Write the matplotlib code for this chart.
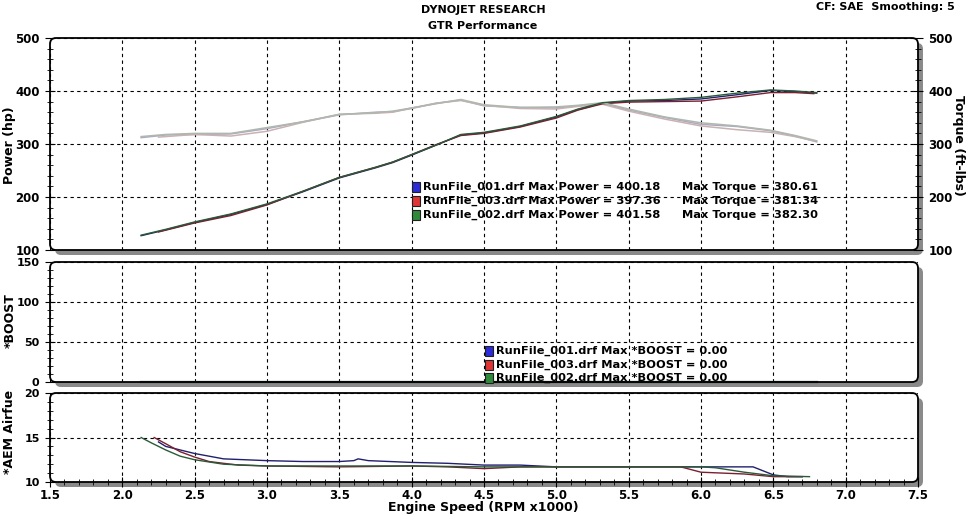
import matplotlib
matplotlib.use("Agg")
import matplotlib.pyplot as plt
from matplotlib.patches import FancyBboxPatch, Rectangle
from matplotlib.ticker import MultipleLocator

plt.rcParams['font.family'] = 'DejaVu Sans'
plt.rcParams['font.weight'] = 'bold'

# ---- data ----
runs = ['RunFile_001.drf', 'RunFile_003.drf', 'RunFile_002.drf']
max_power = ['400.18', '397.36', '401.58']
max_torque = ['380.61', '381.34', '382.30']
max_boost = ['0.00', '0.00', '0.00']

rpm_001 = [2.13, 2.3, 2.5, 2.75, 3.0, 3.25, 3.5, 3.75, 3.87, 4.0, 4.17, 4.34,
           4.5, 4.75, 5.0, 5.15, 5.32, 5.5, 5.75, 6.0, 6.25, 6.48, 6.65, 6.8]
power_001 = [127, 138, 152, 167, 186, 210, 236, 255, 265, 279, 298, 317,
             321, 333, 351, 365, 377, 381, 382, 385, 393, 401, 399, 396]
torque_001 = [312, 317, 318, 319, 329, 342, 355, 360, 361, 367, 377, 383,
              372, 369, 368, 372, 377, 364, 350, 337, 333, 325, 315, 304]

rpm_003 = [2.25, 2.5, 2.75, 3.0, 3.25, 3.5, 3.75, 3.87, 4.0, 4.17, 4.34,
           4.5, 4.75, 5.0, 5.15, 5.32, 5.5, 5.75, 6.0, 6.25, 6.48, 6.65, 6.78]
power_003 = [134, 151, 165, 185, 211, 237, 256, 266, 280, 299, 316,
             320, 332, 349, 364, 376, 379, 380, 381, 389, 397, 397, 395]
torque_003 = [313, 318, 315, 324, 341, 356, 358, 360, 368, 377, 382,
              373, 367, 366, 371, 375, 362, 347, 334, 327, 322, 314, 306]

rpm_002 = [2.13, 2.3, 2.5, 2.75, 3.0, 3.25, 3.5, 3.75, 3.87, 4.0, 4.17, 4.34,
           4.5, 4.75, 5.0, 5.15, 5.32, 5.5, 5.75, 6.0, 6.25, 6.48, 6.65, 6.8]
power_002 = [128, 139, 153, 168, 187, 211, 237, 256, 266, 280, 298, 318,
             322, 334, 352, 366, 378, 382, 384, 388, 396, 402, 400, 397]
torque_002 = [314, 318, 320, 320, 331, 342, 356, 359, 362, 368, 376, 384,
              374, 369, 370, 373, 378, 366, 351, 340, 334, 326, 316, 306]

rpm_boost = [2.13, 6.8]
boost_001 = [0, 0]
boost_003 = [0, 0]
boost_002 = [0, 0]

rpm_afr_001 = [2.25, 2.3, 2.4, 2.5, 2.6, 2.7, 2.85, 3.0, 3.25, 3.5, 3.6, 3.63, 3.7,
               4.0, 4.25, 4.5, 4.75, 5.0, 5.5, 6.0, 6.36, 6.5, 6.6, 6.7]
afr_001 = [14.5, 14.0, 13.6, 13.2, 12.9, 12.6, 12.5, 12.4, 12.3, 12.3, 12.4, 12.6, 12.4,
           12.2, 12.1, 11.9, 11.9, 11.7, 11.7, 11.7, 11.7, 10.8, 10.6, 10.6]
rpm_afr_003 = [2.22, 2.3, 2.4, 2.5, 2.6, 2.8, 3.0, 3.5, 4.0, 4.25, 4.5, 4.75,
               5.0, 5.5, 5.86, 6.0, 6.3, 6.5, 6.7]
afr_003 = [15.0, 14.3, 13.4, 12.8, 12.3, 11.9, 11.8, 11.7, 11.8, 11.7, 11.5, 11.7,
           11.7, 11.7, 11.7, 11.1, 10.9, 10.6, 10.6]
rpm_afr_002 = [2.13, 2.2, 2.3, 2.4, 2.5, 2.7, 3.0, 3.5, 4.0, 4.5, 5.0, 5.5,
               6.0, 6.1, 6.3, 6.5, 6.75]
afr_002 = [15.0, 14.4, 13.6, 12.9, 12.5, 12.0, 11.8, 11.8, 11.8, 11.7, 11.7, 11.7,
           11.7, 11.6, 11.1, 10.7, 10.6]

dark = ['#20206e', '#7a2030', '#2a5a38']     # power / boost / afr
light = ['#b0a8c2', '#c8b2b4', '#aeb8ae']    # torque
icon = ['#2b2bd8', '#e03535', '#2f8a3a']

W, H = 967, 514
fig = plt.figure(figsize=(W / 100, H / 100), dpi=100)
fig.patch.set_facecolor('white')


def frac(l, t, r, b):
    return [l / W, 1 - b / H, (r - l) / W, (b - t) / H]


def panel(l, t, r, b, lsize=8.5):
    # shadow + white rounded box + axes + rounded frame, all in pixels
    x0, y0, w, h = l / 100, (H - b) / 100, (r - l) / 100, (b - t) / 100
    box = "round,pad=0,rounding_size=0.06"
    fig.patches.append(FancyBboxPatch((x0 + 0.05, y0 - 0.05), w, h, boxstyle=box,
                                      transform=fig.dpi_scale_trans, fc='#8a8a8a',
                                      ec='none', zorder=-2))
    fig.patches.append(FancyBboxPatch((x0, y0), w, h, boxstyle=box,
                                      transform=fig.dpi_scale_trans, fc='white',
                                      ec='none', zorder=-1))
    fig.patches.append(FancyBboxPatch((x0, y0), w, h, boxstyle=box,
                                      transform=fig.dpi_scale_trans, fc='none',
                                      ec='black', lw=1.3, zorder=5))
    ax = fig.add_axes(frac(l, t, r, b))
    ax.patch.set_visible(False)
    for s in ax.spines.values():
        s.set_visible(False)
    ax.set_xlim(1.5, 7.5)
    ax.xaxis.set_major_locator(MultipleLocator(0.5))
    ax.xaxis.set_minor_locator(MultipleLocator(0.1))
    ax.grid(True, which='major', color='black', linestyle=(0, (3, 3)), linewidth=0.8)
    ax.set_axisbelow(True)
    ax.tick_params(axis='y', which='both', direction='inout', labelsize=lsize,
                   pad=4, colors='black')
    ax.tick_params(axis='y', which='major', length=7)
    ax.tick_params(axis='y', which='minor', length=4)
    ax.tick_params(axis='x', which='both', bottom=False, labelbottom=False)
    return ax


# ---- top panel: power / torque ----
ax1 = panel(50, 38, 918, 250)
ax1.set_ylim(100, 500)
ax1.yaxis.set_major_locator(MultipleLocator(100))
ax1.yaxis.set_minor_locator(MultipleLocator(20))
for rpm, pw, tq, i in [(rpm_001, power_001, torque_001, 0),
                       (rpm_003, power_003, torque_003, 1),
                       (rpm_002, power_002, torque_002, 2)]:
    ax1.plot(rpm, tq, color=light[i], lw=1.1)
    ax1.plot(rpm, pw, color=dark[i], lw=1.0)

ax1r = ax1.twinx()
ax1r.set_position(frac(50, 38, 918, 250))
for s in ax1r.spines.values():
    s.set_visible(False)
ax1r.set_ylim(100, 500)
ax1r.yaxis.set_major_locator(MultipleLocator(100))
ax1r.yaxis.set_minor_locator(MultipleLocator(20))
ax1r.tick_params(axis='y', which='both', direction='inout', labelsize=8.5, pad=4)
ax1r.tick_params(axis='y', which='major', length=7)
ax1r.tick_params(axis='y', which='minor', length=4)

# ---- middle panel: boost ----
ax2 = panel(50, 262, 918, 382, lsize=8)
ax2.set_ylim(0, 150)
ax2.yaxis.set_major_locator(MultipleLocator(50))
ax2.yaxis.set_minor_locator(MultipleLocator(10))
for b, i in [(boost_001, 0), (boost_003, 1), (boost_002, 2)]:
    ax2.plot(rpm_boost, b, color=dark[i], lw=1.5, clip_on=False)

# ---- bottom panel: AFR ----
ax3 = panel(50, 393, 918, 482, lsize=8)
ax3.set_ylim(10, 20)
ax3.yaxis.set_major_locator(MultipleLocator(5))
ax3.yaxis.set_minor_locator(MultipleLocator(1))
for rpm, a, i in [(rpm_afr_001, afr_001, 0), (rpm_afr_003, afr_003, 1),
                  (rpm_afr_002, afr_002, 2)]:
    ax3.plot(rpm, a, color=dark[i], lw=1.0)
ax3.tick_params(axis='x', which='both', bottom=True, labelbottom=True,
                direction='inout', labelsize=8.5, pad=1.5)
ax3.tick_params(axis='x', which='major', length=7)
ax3.tick_params(axis='x', which='minor', length=5)
ax3.set_xticks([1.5 + 0.5 * k for k in range(13)])
ax3.set_xticklabels(['%.1f' % (1.5 + 0.5 * k) for k in range(13)])

# ---- legends ----
def legend_rows(x_icon, ys, texts, extra=None, x_extra=None):
    for k, y in enumerate(ys):
        fig.patches.append(Rectangle((x_icon / W, 1 - (y + 5) / H), 8 / W, 10 / H,
                                     transform=fig.transFigure, fc=icon[k],
                                     ec='#202020', lw=0.8, zorder=6))
        fig.text((x_icon + 11) / W, 1 - y / H, texts[k], fontsize=8.2,
                 va='center', ha='left', zorder=6)
        if extra:
            fig.text(x_extra / W, 1 - y / H, extra[k], fontsize=8.2,
                     va='center', ha='left', zorder=6)


legend_rows(412, [187, 201, 215],
            ['%s Max Power = %s' % (r, p) for r, p in zip(runs, max_power)],
            ['Max Torque = %s' % t for t in max_torque], 682)
legend_rows(485, [351, 365, 378],
            ['%s Max *BOOST = %s' % (r, b) for r, b in zip(runs, max_boost)])

# ---- titles / labels ----
fig.text(483 / W, 1 - 10 / H, 'DYNOJET RESEARCH', ha='center', va='center', fontsize=8)
fig.text(483 / W, 1 - 26 / H, 'GTR Performance', ha='center', va='center', fontsize=8)
fig.text(955 / W, 1 - 7 / H, 'CF: SAE  Smoothing: 5', ha='right', va='center', fontsize=8)
fig.text(10 / W, 1 - 145 / H, 'Power (hp)', rotation=90, ha='center', va='center', fontsize=9)
fig.text(958 / W, 1 - 145 / H, 'Torque (ft-lbs)', rotation=-90, ha='center', va='center', fontsize=9)
fig.text(10 / W, 1 - 321 / H, '*BOOST', rotation=90, ha='center', va='center', fontsize=9)
fig.text(10 / W, 1 - 432 / H, '*AEM Airfue', rotation=90, ha='center', va='center', fontsize=9)
fig.text(483 / W, 1 - 507.5 / H, 'Engine Speed (RPM x1000)', ha='center', va='center', fontsize=9)

fig.savefig('out.png', dpi=100)
